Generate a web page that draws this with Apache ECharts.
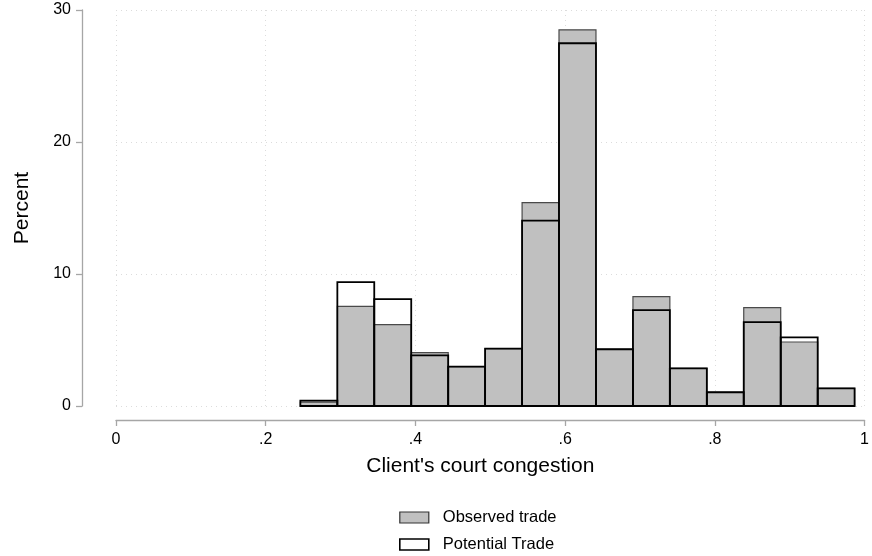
<!DOCTYPE html>
<html>
<head>
<meta charset="utf-8">
<script src="https://cdn.jsdelivr.net/npm/echarts@6/dist/echarts.min.js"></script>
<style>
html,body{margin:0;padding:0;background:#fff;}
#chart{width:872px;height:556px;}
</style>
</head>
<body>
<div id="chart"></div>
<script>
// Histogram bin edges (Client's court congestion)
const binEdges = [0.2463, 0.2957, 0.3450, 0.3944, 0.4438, 0.4931, 0.5425, 0.5918, 0.6412, 0.6906, 0.7399, 0.7893, 0.8386, 0.8880, 0.9374, 0.9867];
// Percent per bin
const observed  = [0.3, 7.55, 6.16, 4.04, 2.98, 4.34, 15.4, 28.5, 4.3, 8.28, 2.85, 1.04, 7.45, 4.85, 1.34];
const potential = [0.4, 9.39, 8.1, 3.84, 2.98, 4.34, 14.04, 27.48, 4.3, 7.27, 2.85, 1.04, 6.36, 5.2, 1.34];
const xTickLabels = {0: '0', 0.2: '.2', 0.4: '.4', 0.6: '.6', 0.8: '.8', 1: '1'};

const FONT = '"Liberation Sans", Arial, sans-serif';

function toData(vals) {
  return vals.map((v, i) => [binEdges[i], binEdges[i + 1], v]);
}

function makeRender(style) {
  return function (params, api) {
    const p0 = api.coord([api.value(0), api.value(2)]);
    const p1 = api.coord([api.value(1), 0]);
    return {
      type: 'rect',
      shape: { x: p0[0], y: p0[1], width: p1[0] - p0[0], height: p1[1] - p0[1] },
      style: style
    };
  };
}

const chart = echarts.init(document.getElementById('chart'), null, { renderer: 'canvas' });
chart.setOption({
  animation: false,
  backgroundColor: '#fff',
  grid: { left: 116, right: 5, top: 10, bottom: 150, containLabel: false },
  xAxis: {
    type: 'value', min: 0, max: 1, interval: 0.2,
    offset: 14,
    name: "Client's court congestion",
    nameLocation: 'middle', nameGap: 36,
    nameTextStyle: { fontFamily: FONT, fontSize: 21, color: '#000', padding: [0, 20, 0, 0] },
    axisLine: { show: true, onZero: false, lineStyle: { color: '#a6a6a6', width: 1.3 } },
    axisTick: { show: true, length: 6, lineStyle: { color: '#a6a6a6', width: 1.3 } },
    axisLabel: { fontFamily: FONT, fontSize: 16, color: '#000', margin: 12,
      formatter: v => xTickLabels[Math.round(v * 10) / 10] ?? String(v) },
    splitLine: { show: true, lineStyle: { color: '#dcdcdc', type: [1, 4], width: 1 } }
  },
  yAxis: {
    type: 'value', min: 0, max: 30, interval: 10,
    offset: 34,
    name: 'Percent',
    nameLocation: 'middle', nameGap: 49,
    nameTextStyle: { fontFamily: FONT, fontSize: 21, color: '#000' },
    axisLine: { show: true, onZero: false, lineStyle: { color: '#a6a6a6', width: 1.3 } },
    axisTick: { show: true, length: 6, lineStyle: { color: '#a6a6a6', width: 1.3 } },
    axisLabel: { fontFamily: FONT, fontSize: 16, color: '#000', margin: 11 },
    splitLine: { show: true, lineStyle: { color: '#dcdcdc', type: [1, 4], width: 1 } }
  },
  legend: {
    orient: 'vertical',
    left: 399, top: 509,
    padding: 0,
    itemWidth: 29, itemHeight: 11, itemGap: 10,
    textStyle: { fontFamily: FONT, fontSize: 16.5, color: '#000', padding: [0, 0, 0, 9] },
    data: [
      { name: 'Observed trade', icon: 'rect', itemStyle: { color: '#c0c0c0', borderColor: '#333', borderWidth: 1.2 } },
      { name: 'Potential Trade', icon: 'rect', itemStyle: { color: '#fff', borderColor: '#000', borderWidth: 1.6 } }
    ]
  },
  series: [
    {
      name: 'Observed trade',
      type: 'custom',
      renderItem: makeRender({ fill: '#c0c0c0', stroke: '#4a4a4a', lineWidth: 1.2 }),
      encode: { x: [0, 1], y: 2 },
      data: toData(observed),
      z: 2
    },
    {
      name: 'Potential Trade',
      type: 'custom',
      renderItem: makeRender({ fill: 'none', stroke: '#000', lineWidth: 1.8 }),
      encode: { x: [0, 1], y: 2 },
      data: toData(potential),
      z: 3
    }
  ]
});
</script>
</body>
</html>
